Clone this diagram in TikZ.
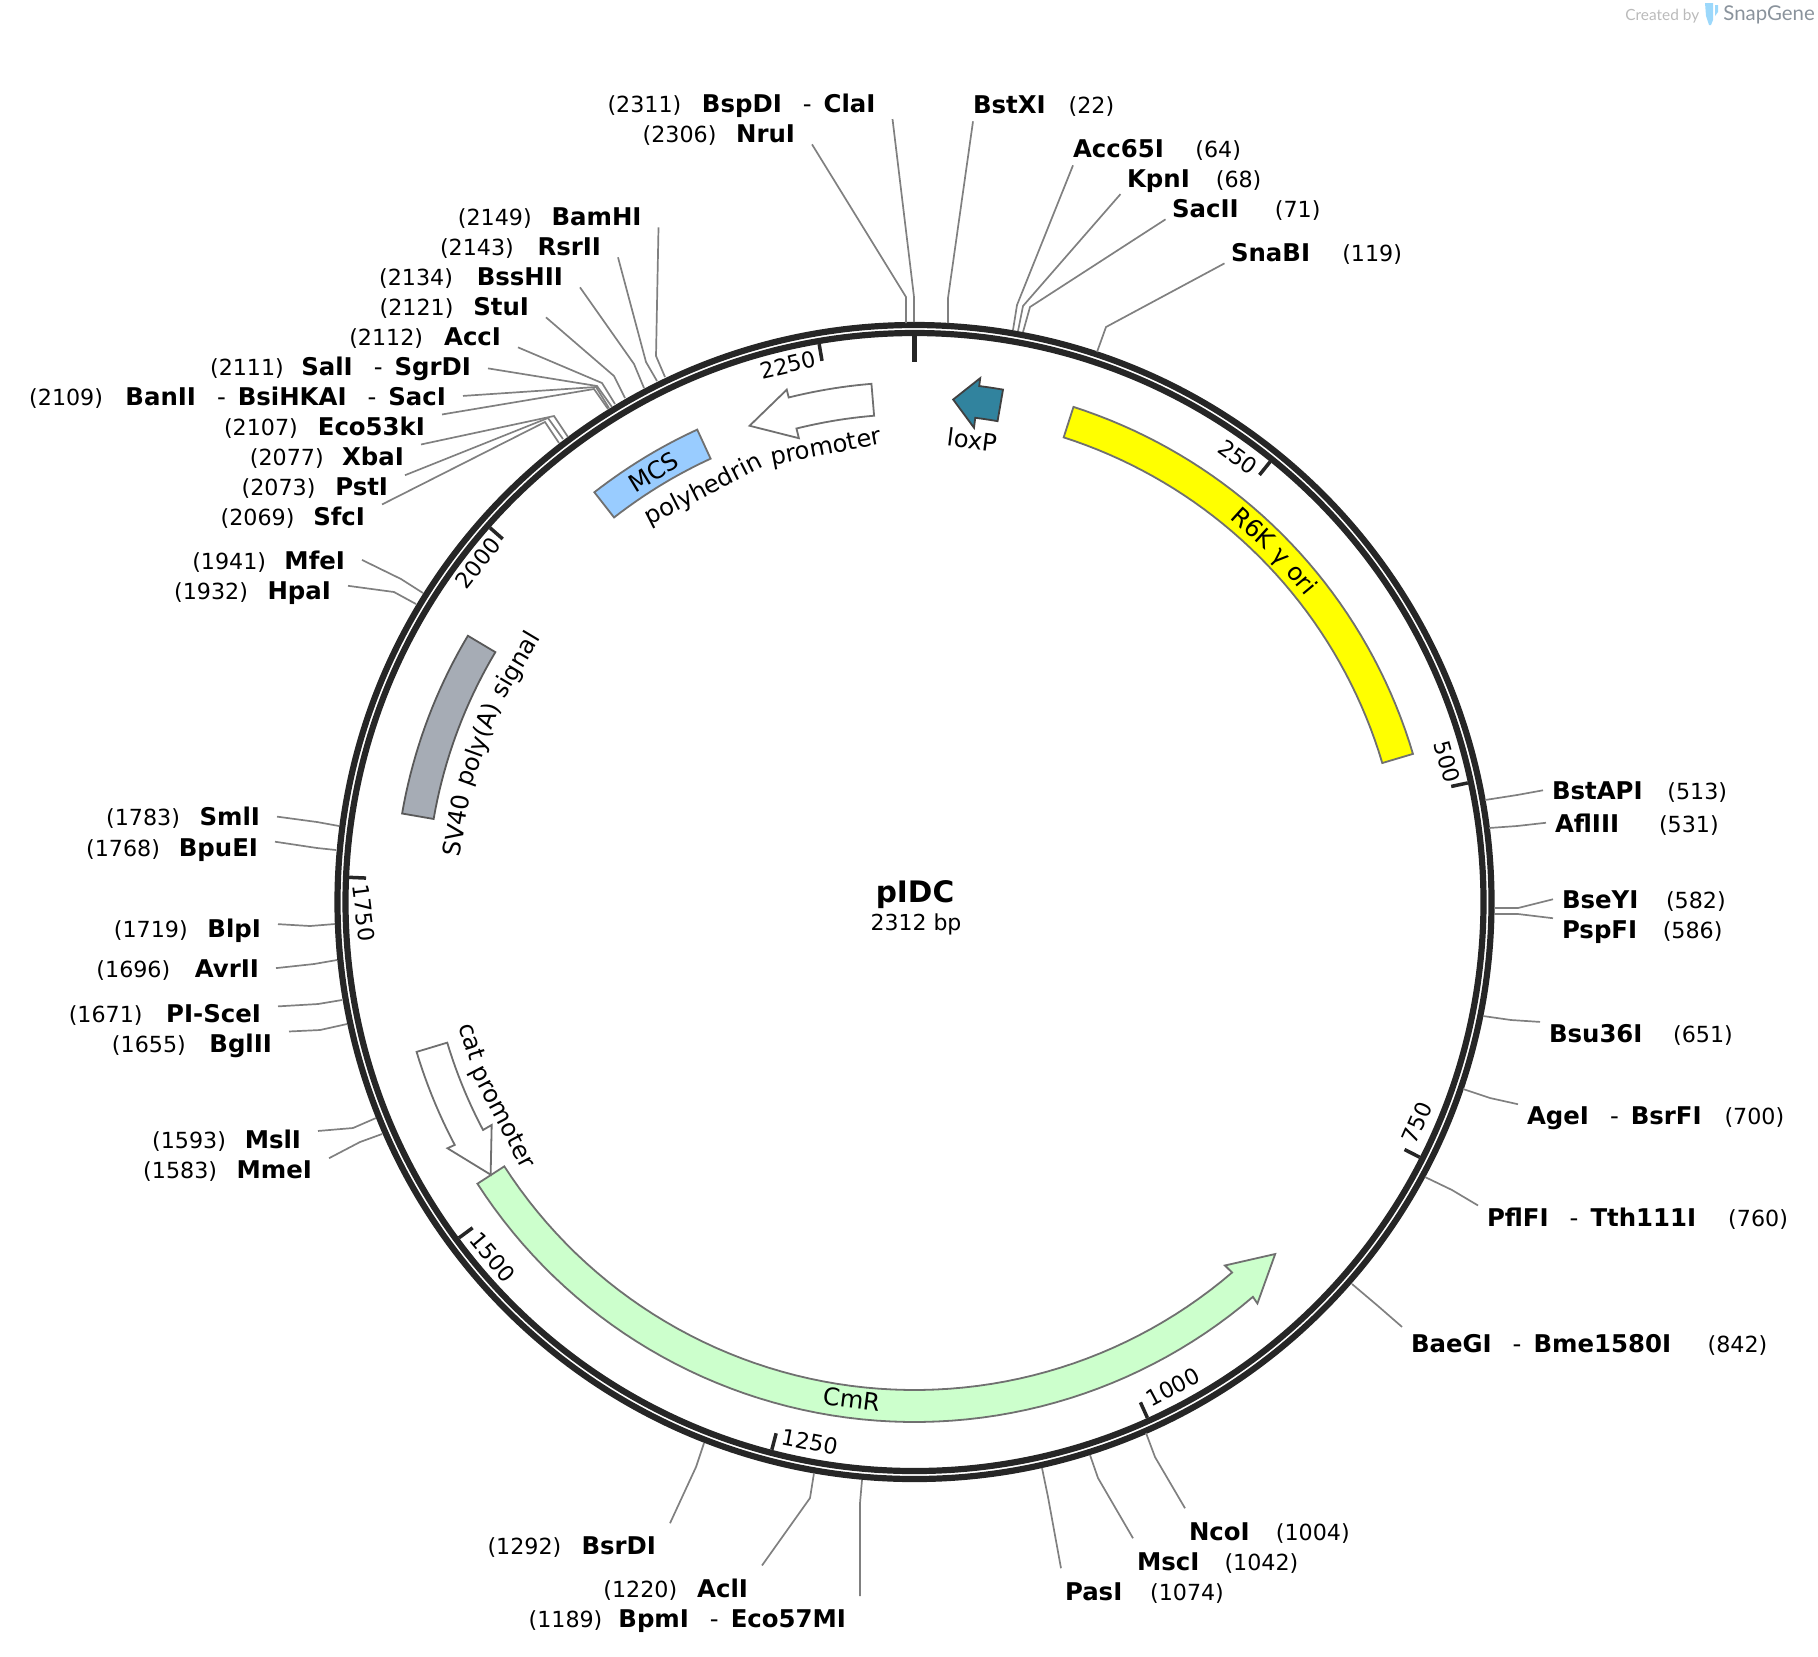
\documentclass[tikz,border=0pt]{standalone}
\usepackage{fontspec}
\setmainfont{DejaVu Sans}
\newfontfamily\brandfont{Lato}
\usetikzlibrary{positioning}
\definecolor{ringc}{HTML}{262626}
\definecolor{leadc}{HTML}{808080}
\definecolor{edgec}{HTML}{707070}
\definecolor{oric}{HTML}{FFFF00}
\definecolor{cmrc}{HTML}{CCFFCC}
\definecolor{mcsc}{HTML}{99CCFF}
\definecolor{polyac}{HTML}{A6ACB5}
\definecolor{loxc}{HTML}{31839E}
\definecolor{tubec}{HTML}{9CD8FB}
\definecolor{brandc}{HTML}{8A939C}
\newcommand{\dash}{\hspace{10.5pt}{\mdseries-}\hspace{6pt}}
\newcommand{\site}[4]{%
  \coordinate (#1-k) at (#3);
  \coordinate (#1-r) at (#4);
  \draw[leader] (#1.#2) -- (#1-k) -- (#1-r);}
\newcommand{\tickmark}[1]{%
  \draw[tk] ({px(#1,566)},{py(#1,566)}) -- ({px(#1,549)},{py(#1,549)});}
\tikzset{%
  declare function={px(\a,\r)=914.5+\r*sin(\a); py(\a,\r)=902-\r*cos(\a);},
  enz/.style={font=\fontsize{12.2}{14}\selectfont\bfseries,inner ysep=1pt,outer sep=0pt},
  enzl/.style={enz,inner xsep=8.5pt,anchor=base east},
  enzr/.style={enz,inner xsep=4.5pt,anchor=base west},
  posn/.style={font=\fontsize{11.1}{13}\selectfont,inner sep=0pt,outer sep=0pt},
  leader/.style={draw=leadc,line width=.85pt},
  ring/.style={draw=ringc,line width=3.1pt},
  tk/.style={draw=ringc,line width=1.75pt},
  ticklb/.style={font=\fontsize{11.1}{13}\selectfont,inner sep=0pt},
  featlb/.style={font=\fontsize{12.1}{14}\selectfont,inner sep=0pt},
  arclb/.style={featlb,anchor=base},
  feat/.style={draw=edgec,line width=.9pt,line join=miter}
}
\begin{document}
\begin{tikzpicture}[x=.5pt,y=-.5pt]
  \useasboundingbox (0,0) rectangle (1818,1656);
  \coordinate (ctr) at (914.5,902);

  % features
  \draw[feat,fill=oric] plot[domain=17.8:73.45,samples=40] ({px(\x,520)},{py(\x,520)})
    -- plot[domain=73.45:17.8,samples=40] ({px(\x,488)},{py(\x,488)}) -- cycle;
  \draw[feat,fill=cmrc] plot[domain=237.2:139.4,samples=60] ({px(\x,520)},{py(\x,520)})
    -- ({px(139.5,528)},{py(139.5,528)}) -- ({px(134.3,504)},{py(134.3,504)})
    -- ({px(139.5,478)},{py(139.5,478)})
    -- plot[domain=139.4:237.2,samples=60] ({px(\x,488)},{py(\x,488)}) -- cycle;
  \draw[feat,fill=white] plot[domain=253.25:242.15,samples=12] ({px(\x,520)},{py(\x,520)})
    -- ({px(242.2,528)},{py(242.2,528)}) -- ({px(237.25,504)},{py(237.25,504)})
    -- ({px(242.2,478)},{py(242.2,478)})
    -- plot[domain=242.15:253.25,samples=12] ({px(\x,488)},{py(\x,488)}) -- cycle;
  \draw[feat,fill=white] plot[domain=355.25:346,samples=12] ({px(\x,520)},{py(\x,520)})
    -- ({px(346,528)},{py(346,528)}) -- ({px(340.9,504)},{py(340.9,504)})
    -- ({px(346,478)},{py(346,478)})
    -- plot[domain=346:355.25,samples=12] ({px(\x,488)},{py(\x,488)}) -- cycle;
  \draw[feat,fill=mcsc] plot[domain=322:335.3,samples=16] ({px(\x,520)},{py(\x,520)})
    -- plot[domain=335.3:322,samples=16] ({px(\x,488)},{py(\x,488)}) -- cycle;
  \draw[feat,draw=black!65,fill=polyac] plot[domain=279.8:300.8,samples=20] ({px(\x,520)},{py(\x,520)})
    -- plot[domain=300.8:279.8,samples=20] ({px(\x,488)},{py(\x,488)}) -- cycle;
  \draw[feat,draw=black!75,fill=loxc] plot[domain=9.8:7.15,samples=4] ({px(\x,520)},{py(\x,520)})
    -- ({px(7.15,528)},{py(7.15,528)}) -- ({px(4.4,504)},{py(4.4,504)})
    -- ({px(7.15,478)},{py(7.15,478)})
    -- plot[domain=7.15:9.8,samples=4] ({px(\x,488)},{py(\x,488)}) -- cycle;

  % feature labels
  \node[arclb,rotate=-42.18] (ori1) at ({px(42.18,496)},{py(42.18,496)}) {R6K};
  \node[arclb,rotate=-46.67] (ori2) at ({px(46.67,496)},{py(46.67,496)}) {γ};
  \node[arclb,rotate=-50.18] (ori3) at ({px(50.18,496)},{py(50.18,496)}) {ori};
  \node[arclb,rotate=27.1] (polh1) at ({px(332.9,456)},{py(332.9,456)}) {polyhedrin};
  \node[arclb,rotate=11] (polh2) at ({px(349,456)},{py(349,456)}) {promoter};
  \node[arclb,rotate=80.5] (sv1) at ({px(279.5,456)},{py(279.5,456)}) {SV40};
  \node[arclb,rotate=70.15] (sv2) at ({px(289.85,456)},{py(289.85,456)}) {poly(A)};
  \node[arclb,rotate=59.25] (sv3) at ({px(300.75,456)},{py(300.75,456)}) {signal};
  \node[arclb,rotate=-72.5] (cat1) at ({px(252.5,472)},{py(252.5,472)}) {cat};
  \node[arclb,rotate=-62.45] (cat2) at ({px(242.45,472)},{py(242.45,472)}) {promoter};
  \node[featlb,rotate=31.3] (mcs) at (653.6,471.7) {MCS};
  \node[featlb,rotate=-7] (cmr) at (852,1399) {CmR};
  \node[featlb,rotate=-7,anchor=base] (loxp) at (971,449) {loxP};

  % ring and ticks
  \draw[ring] (ctr) circle[radius=288.5pt];
  \draw[ring] (ctr) circle[radius=284.5pt];
  \draw[draw=ringc,line width=2.5pt] ({px(0,566)},{py(0,566)}) -- ({px(0,540)},{py(0,540)});
  \tickmark{38.93}
  \tickmark{77.85}
  \tickmark{116.8}
  \tickmark{155.7}
  \tickmark{194.6}
  \tickmark{233.6}
  \tickmark{272.5}
  \tickmark{311.4}
  \tickmark{350.3}
  \node[ticklb,rotate=-36] (t250) at (1238,457) {250};
  \node[ticklb,rotate=-75] (t500) at (1447,762) {500};
  \node[ticklb,rotate=66] (t750) at (1417,1123) {750};
  \node[ticklb,rotate=28] (t1000) at (1173,1387) {1000};
  \node[ticklb,rotate=-11] (t1250) at (810,1442) {1250};
  \node[ticklb,rotate=-50] (t1500) at (493,1257) {1500};
  \node[ticklb,rotate=-83] (t1750) at (364,913) {1750};
  \node[ticklb,rotate=52] (t2000) at (478,563) {2000};
  \node[ticklb,rotate=13.3] (t2250) at (788,365) {2250};

  % centre
  \node[font=\fontsize{14.8}{16}\selectfont\bfseries,anchor=base,inner sep=0pt] (pidc) at (915,902) {pIDC};
  \node[font=\fontsize{11}{13}\selectfont,anchor=base,inner sep=0pt] (pidclen) at (916,930) {2312 bp};

  % sites, top
  \node[enzl] (bspdi) at (892.5,112) {BspDI\dash ClaI};
  \node[posn,base left=1.8pt of bspdi] (bspdi-p) {(2311)};
  \site{bspdi}{south east}{914,297}{914,322}
  \node[enzl] (nrui) at (812,142) {NruI};
  \node[posn,base left=1.3pt of nrui] (nrui-p) {(2306)};
  \site{nrui}{south east}{906,297}{906,323}
  \node[enzr,inner xsep=0pt,inner ysep=4pt] (bstxi) at (973,113) {BstXI};
  \node[posn,base right=11.5pt of bstxi] (bstxi-p) {(22)};
  \site{bstxi}{south west}{948,298}{948,323}
  \node[enzr,inner xsep=0pt,inner ysep=4pt] (acc65i) at (1073,157) {Acc65I};
  \node[posn,base right=15.8pt of acc65i] (acc65i-p) {(64)};
  \site{acc65i}{south west}{1017,305}{1013,330}
  \node[enzr,inner xsep=3.25pt] (kpni) at (1120.5,187) {KpnI};
  \node[posn,base right=9.75pt of kpni] (kpni-p) {(68)};
  \site{kpni}{south west}{1023,306}{1018,331}
  \node[enzr,inner xsep=3.25pt] (sacii) at (1165.5,217) {SacII};
  \node[posn,base right=14.85pt of sacii] (sacii-p) {(71)};
  \site{sacii}{south west}{1030,307}{1023,332}
  \node[enzr,inner xsep=3.25pt] (snabi) at (1224.5,261) {SnaBI};
  \node[posn,base right=12.85pt of snabi] (snabi-p) {(119)};
  \site{snabi}{south west}{1106,327}{1097,352}

  % sites, upper left
  \node[enzl] (bamhi) at (658.5,225) {BamHI};
  \node[posn,base left=1.4pt of bamhi] (bamhi-p) {(2149)};
  \site{bamhi}{south east}{656,356}{665,377}
  \node[enzl] (rsrii) at (618,255) {RsrII};
  \node[posn,base left=3.3pt of rsrii] (rsrii-p) {(2143)};
  \site{rsrii}{south east}{646,362}{657,381}
  \node[enzl] (bsshii) at (580,285) {BssHII};
  \node[posn,base left=3.4pt of bsshii] (bsshii-p) {(2134)};
  \site{bsshii}{south east}{634,364}{644,388}
  \node[enzl] (stui) at (546,315) {StuI};
  \node[posn,base left=1.4pt of stui] (stui-p) {(2121)};
  \site{stui}{south east}{614,376}{625,398}
  \node[enzl] (acci) at (518,345) {AccI};
  \node[posn,base left=2pt of acci] (acci-p) {(2112)};
  \site{acci}{south east}{602,383}{615,404}
  \node[enzl] (sali) at (488,375) {SalI\dash SgrDI};
  \node[posn,base left=.2pt of sali] (sali-p) {(2111)};
  \site{sali}{east}{597,386}{612,407}
  \node[enzl] (banii) at (463,405) {BanII\dash BsiHKAI\dash SacI};
  \node[posn,base left=2.7pt of banii] (banii-p) {(2109)};
  \site{banii}{east}{596,387}{609,408}
  \node[enzl] (eco53ki) at (442,435) {Eco53kI};
  \node[posn,base left=1.5pt of eco53ki] (eco53ki-p) {(2107)};
  \site{eco53ki}{north east}{594,389}{608,409}
  \node[enzl] (xbai) at (421,465) {XbaI};
  \node[posn,base left=.7pt of xbai] (xbai-p) {(2077)};
  \site{xbai}{north east}{554,416}{568,437}
  \node[enzl] (psti) at (405,495) {PstI};
  \node[posn,base left=1.4pt of psti] (psti-p) {(2073)};
  \site{psti}{north east}{548,418}{563,439}
  \node[enzl] (sfci) at (382,525) {SfcI};
  \node[posn,base left=.9pt of sfci] (sfci-p) {(2069)};
  \site{sfci}{north east}{545,422}{559,443}
  \node[enzl] (mfei) at (362,569) {MfeI};
  \node[posn,base left=.7pt of mfei] (mfei-p) {(1941)};
  \site{mfei}{east}{401,579}{423,593}
  \node[enzl] (hpai) at (348,599) {HpaI};
  \node[posn,base left=1.3pt of hpai] (hpai-p) {(1932)};
  \site{hpai}{8}{394,592}{416,604}

  % sites, lower left
  \node[enzl] (smli) at (277,825.7) {SmlI};
  \node[posn,base left=1.3pt of smli] (smli-p) {(1783)};
  \site{smli}{east}{317,822}{339,826}
  \node[enzl] (bpuei) at (275,856) {BpuEI};
  \node[posn,base left=.9pt of bpuei] (bpuei-p) {(1768)};
  \site{bpuei}{8}{317,848}{336,850}
  \node[enzl] (blpi) at (278,937) {BlpI};
  \node[posn,base left=1.4pt of blpi] (blpi-p) {(1719)};
  \site{blpi}{8}{310,926}{335,924}
  \node[enzl] (avrii) at (276,977) {AvrII};
  \node[posn,base left=3.8pt of avrii] (avrii-p) {(1696)};
  \site{avrii}{east}{314,964}{337,960}
  \node[enzl] (pisce) at (278,1022) {PI-SceI};
  \node[posn,base left=3.3pt of pisce] (pisce-p) {(1671)};
  \site{pisce}{6}{318,1004}{342,1000}
  \node[enzl] (bglii) at (289,1052) {BglII};
  \node[posn,base left=3.3pt of bglii] (bglii-p) {(1655)};
  \site{bglii}{north east}{320,1030}{347,1024}
  \node[enzl] (msli) at (318,1148) {MslI};
  \node[posn,base left=.9pt of msli] (msli-p) {(1593)};
  \site{msli}{10}{353,1128}{376,1118}
  \node[enzl] (mmei) at (329,1178) {MmeI};
  \node[posn,base left=1.3pt of mmei] (mmei-p) {(1583)};
  \site{mmei}{north east}{360,1142}{382,1134}

  % sites, bottom
  \node[enzl,inner xsep=7pt,inner ysep=6.5pt] (bsrdi) at (670,1554) {BsrDI};
  \node[posn,base left=3.1pt of bsrdi] (bsrdi-p) {(1292)};
  \site{bsrdi}{north east}{696,1467}{704,1443}
  \node[enzl,inner xsep=7pt,inner ysep=6.5pt] (acli) at (762,1597) {AclI};
  \node[posn,base left=3pt of acli] (acli-p) {(1220)};
  \site{acli}{north east}{810,1498}{814,1473}
  \node[enzl,inner xsep=7pt,inner ysep=6.5pt] (bpmi) at (860,1627) {BpmI\dash Eco57MI};
  \node[posn,base left=1pt of bpmi] (bpmi-p) {(1189)};
  \site{bpmi}{north east}{860,1503}{862,1480}
  \node[enzr,inner xsep=2pt,inner ysep=7pt] (ncoi) at (1185,1540) {NcoI};
  \node[posn,base right=11.1pt of ncoi] (ncoi-p) {(1004)};
  \site{ncoi}{north west}{1155,1457}{1146,1433}
  \node[enzr,inner xsep=2pt,inner ysep=7pt] (msci) at (1133,1570) {MscI};
  \node[posn,base right=10.6pt of msci] (msci-p) {(1042)};
  \site{msci}{north west}{1098,1478}{1090,1455}
  \node[enzr,inner xsep=2pt,inner ysep=7pt] (pasi) at (1061,1600) {PasI};
  \node[posn,base right=11.9pt of pasi] (pasi-p) {(1074)};
  \site{pasi}{north west}{1048,1497}{1042,1468}

  % sites, right
  \node[enzr] (bstapi) at (1543,799) {BstAPI};
  \node[posn,base right=7.9pt of bstapi] (bstapi-p) {(513)};
  \site{bstapi}{west}{1517,795}{1485,800}
  \node[enzr] (afliii) at (1546,832) {AflIII};
  \node[posn,base right=15.4pt of afliii] (afliii-p) {(531)};
  \site{afliii}{west}{1517,826}{1489,828}
  \node[enzr] (bseyi) at (1553,908) {BseYI};
  \node[posn,base right=9.3pt of bseyi] (bseyi-p) {(582)};
  \site{bseyi}{west}{1518,908}{1494,908}
  \node[enzr] (pspfi) at (1553,938) {PspFI};
  \node[posn,base right=8.3pt of pspfi] (pspfi-p) {(586)};
  \site{pspfi}{north west}{1518,914}{1494,914}
  \node[enzr] (bsu36i) at (1540,1042) {Bsu36I};
  \node[posn,base right=10.8pt of bsu36i] (bsu36i-p) {(651)};
  \site{bsu36i}{north west}{1511,1020}{1483,1016}
  \node[enzr] (agei) at (1518,1124) {AgeI\dash BsrFI};
  \node[posn,base right=6.9pt of agei] (agei-p) {(700)};
  \site{agei}{north west}{1490,1098}{1463,1089}
  \node[enzr] (pflfi) at (1478,1226) {PflFI\dash Tth111I};
  \node[posn,base right=11.5pt of pflfi] (pflfi-p) {(760)};
  \site{pflfi}{north west}{1452,1190}{1425,1177}
  \node[enzr,inner ysep=3.5pt] (baegi) at (1402,1352) {BaeGI\dash Bme1580I};
  \node[posn,base right=13.8pt of baegi] (baegi-p) {(842)};
  \site{baegi}{north west}{1378,1306}{1352,1284}

  % brand
  \node[font=\brandfont\fontsize{7.7}{9}\selectfont,text=black!27,anchor=base west,inner sep=0pt] (created) at (1625,20) {Created by};
  \node[font=\brandfont\fontsize{10.2}{12}\selectfont,text=brandc,anchor=base west,inner sep=0pt] (snapgene) at (1723,20) {SnapGene};
  \fill[fill=tubec] (1705,3) -- (1713,3) -- (1713,20) -- (1711,25) -- (1709,25) -- (1706,16) -- cycle;
  \fill[fill=tubec] (1715,5) -- (1718,5) -- (1718,12) -- (1715,16) -- cycle;
\end{tikzpicture}
\end{document}
